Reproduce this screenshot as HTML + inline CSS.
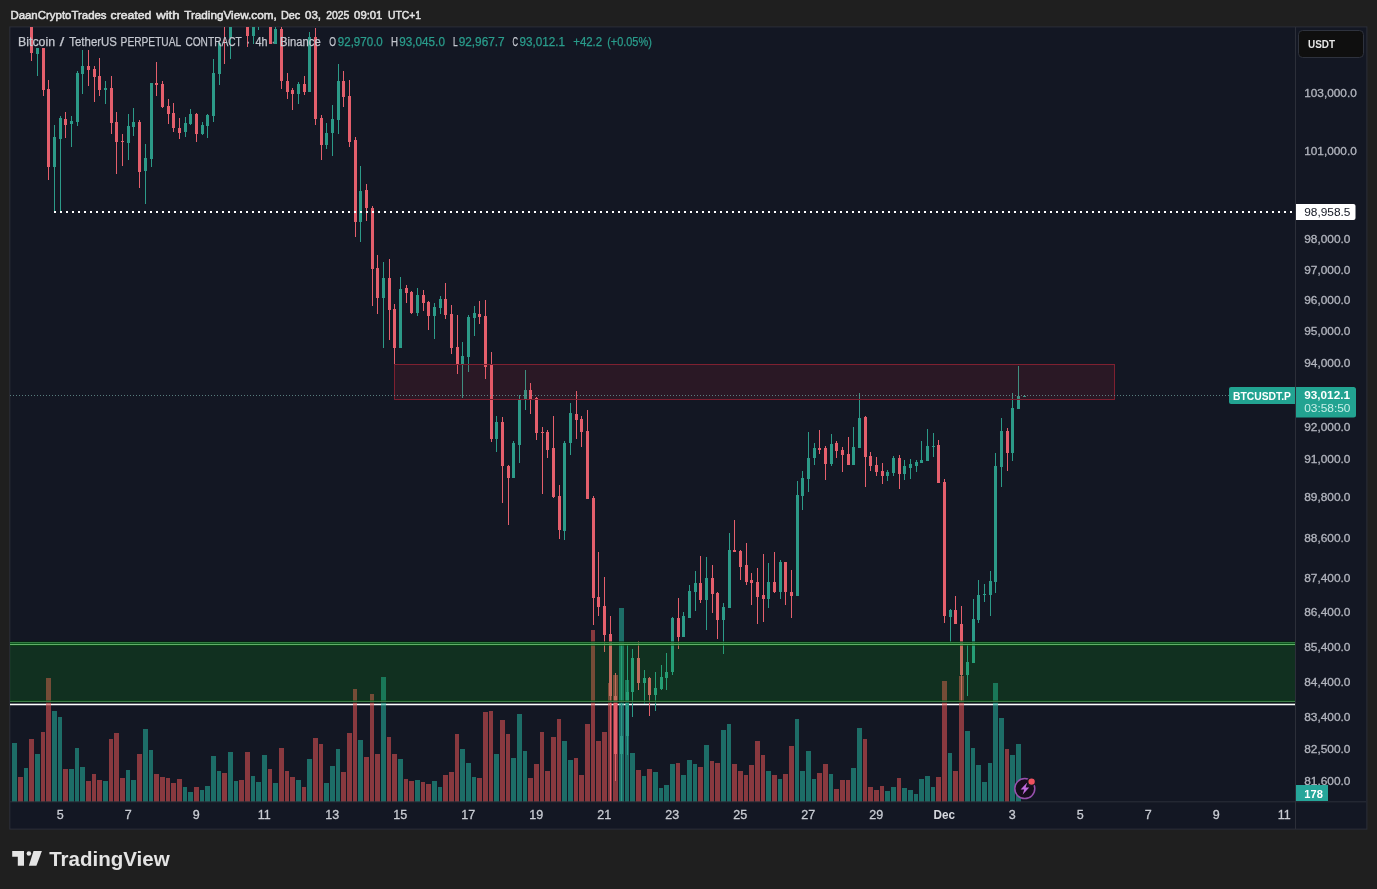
<!DOCTYPE html>
<html><head><meta charset="utf-8"><title>BTCUSDT.P chart</title>
<style>html,body{margin:0;padding:0;background:#1f1f1f;overflow:hidden}svg{display:block;will-change:transform}text{font-family:"Liberation Sans",sans-serif}</style>
</head><body>
<svg width="1377" height="889" viewBox="0 0 1377 889">
<rect x="0" y="0" width="1377" height="889" fill="#1f1f1f"/>
<rect x="9.8" y="26.9" width="1357.1" height="802.2" fill="#131723" stroke="#2c2f39" stroke-width="1"/>
<defs><clipPath id="pane"><rect x="10" y="27" width="1285" height="775"/></clipPath></defs>
<rect x="10" y="703.7" width="1285" height="1.55" fill="#ffffff"/>
<g clip-path="url(#pane)" shape-rendering="crispEdges">
<rect x="12" y="743" width="5" height="59" fill="rgba(36,166,148,0.6)"/>
<rect x="18" y="777" width="5" height="25" fill="rgba(217,80,82,0.6)"/>
<rect x="24" y="768" width="4" height="34" fill="rgba(36,166,148,0.6)"/>
<rect x="29" y="739" width="5" height="63" fill="rgba(217,80,82,0.6)"/>
<rect x="35" y="754" width="5" height="48" fill="rgba(36,166,148,0.6)"/>
<rect x="41" y="732" width="4" height="70" fill="rgba(217,80,82,0.6)"/>
<rect x="46" y="678" width="5" height="124" fill="rgba(217,80,82,0.6)"/>
<rect x="52" y="711" width="5" height="91" fill="rgba(36,166,148,0.6)"/>
<rect x="58" y="717" width="4" height="85" fill="rgba(36,166,148,0.6)"/>
<rect x="63" y="769" width="5" height="33" fill="rgba(217,80,82,0.6)"/>
<rect x="69" y="769" width="5" height="33" fill="rgba(36,166,148,0.6)"/>
<rect x="75" y="748" width="4" height="54" fill="rgba(36,166,148,0.6)"/>
<rect x="80" y="767" width="5" height="35" fill="rgba(36,166,148,0.6)"/>
<rect x="86" y="781" width="5" height="21" fill="rgba(217,80,82,0.6)"/>
<rect x="92" y="774" width="4" height="28" fill="rgba(217,80,82,0.6)"/>
<rect x="97" y="780" width="5" height="22" fill="rgba(217,80,82,0.6)"/>
<rect x="103" y="781" width="5" height="21" fill="rgba(36,166,148,0.6)"/>
<rect x="109" y="739" width="4" height="63" fill="rgba(217,80,82,0.6)"/>
<rect x="114" y="733" width="5" height="69" fill="rgba(217,80,82,0.6)"/>
<rect x="120" y="778" width="5" height="24" fill="rgba(217,80,82,0.6)"/>
<rect x="126" y="770" width="4" height="32" fill="rgba(36,166,148,0.6)"/>
<rect x="131" y="780" width="5" height="22" fill="rgba(36,166,148,0.6)"/>
<rect x="137" y="754" width="5" height="48" fill="rgba(217,80,82,0.6)"/>
<rect x="143" y="729" width="5" height="73" fill="rgba(36,166,148,0.6)"/>
<rect x="149" y="750" width="4" height="52" fill="rgba(36,166,148,0.6)"/>
<rect x="154" y="774" width="5" height="28" fill="rgba(217,80,82,0.6)"/>
<rect x="160" y="777" width="5" height="25" fill="rgba(217,80,82,0.6)"/>
<rect x="166" y="778" width="4" height="24" fill="rgba(217,80,82,0.6)"/>
<rect x="171" y="783" width="5" height="19" fill="rgba(217,80,82,0.6)"/>
<rect x="177" y="779" width="5" height="23" fill="rgba(217,80,82,0.6)"/>
<rect x="183" y="787" width="4" height="15" fill="rgba(36,166,148,0.6)"/>
<rect x="188" y="792" width="5" height="10" fill="rgba(36,166,148,0.6)"/>
<rect x="194" y="787" width="5" height="15" fill="rgba(217,80,82,0.6)"/>
<rect x="200" y="790" width="4" height="12" fill="rgba(36,166,148,0.6)"/>
<rect x="205" y="786" width="5" height="16" fill="rgba(36,166,148,0.6)"/>
<rect x="211" y="756" width="5" height="46" fill="rgba(36,166,148,0.6)"/>
<rect x="217" y="771" width="4" height="31" fill="rgba(36,166,148,0.6)"/>
<rect x="222" y="773" width="5" height="29" fill="rgba(217,80,82,0.6)"/>
<rect x="228" y="752" width="5" height="50" fill="rgba(36,166,148,0.6)"/>
<rect x="234" y="781" width="4" height="21" fill="rgba(36,166,148,0.6)"/>
<rect x="239" y="780" width="5" height="22" fill="rgba(217,80,82,0.6)"/>
<rect x="245" y="752" width="5" height="50" fill="rgba(217,80,82,0.6)"/>
<rect x="251" y="776" width="4" height="26" fill="rgba(36,166,148,0.6)"/>
<rect x="256" y="782" width="5" height="20" fill="rgba(36,166,148,0.6)"/>
<rect x="262" y="755" width="5" height="47" fill="rgba(36,166,148,0.6)"/>
<rect x="268" y="769" width="4" height="33" fill="rgba(217,80,82,0.6)"/>
<rect x="273" y="783" width="5" height="19" fill="rgba(36,166,148,0.6)"/>
<rect x="279" y="748" width="5" height="54" fill="rgba(217,80,82,0.6)"/>
<rect x="285" y="771" width="4" height="31" fill="rgba(217,80,82,0.6)"/>
<rect x="290" y="777" width="5" height="25" fill="rgba(217,80,82,0.6)"/>
<rect x="296" y="780" width="5" height="22" fill="rgba(36,166,148,0.6)"/>
<rect x="302" y="787" width="4" height="15" fill="rgba(217,80,82,0.6)"/>
<rect x="307" y="759" width="5" height="43" fill="rgba(36,166,148,0.6)"/>
<rect x="313" y="738" width="5" height="64" fill="rgba(217,80,82,0.6)"/>
<rect x="319" y="744" width="4" height="58" fill="rgba(217,80,82,0.6)"/>
<rect x="324" y="783" width="5" height="19" fill="rgba(36,166,148,0.6)"/>
<rect x="330" y="766" width="5" height="36" fill="rgba(36,166,148,0.6)"/>
<rect x="336" y="749" width="4" height="53" fill="rgba(36,166,148,0.6)"/>
<rect x="341" y="772" width="5" height="30" fill="rgba(217,80,82,0.6)"/>
<rect x="347" y="733" width="5" height="69" fill="rgba(217,80,82,0.6)"/>
<rect x="353" y="689" width="4" height="113" fill="rgba(217,80,82,0.6)"/>
<rect x="358" y="740" width="5" height="62" fill="rgba(36,166,148,0.6)"/>
<rect x="364" y="757" width="5" height="45" fill="rgba(217,80,82,0.6)"/>
<rect x="370" y="694" width="4" height="108" fill="rgba(217,80,82,0.6)"/>
<rect x="375" y="754" width="5" height="48" fill="rgba(217,80,82,0.6)"/>
<rect x="381" y="677" width="5" height="125" fill="rgba(36,166,148,0.6)"/>
<rect x="387" y="737" width="4" height="65" fill="rgba(217,80,82,0.6)"/>
<rect x="392" y="754" width="5" height="48" fill="rgba(217,80,82,0.6)"/>
<rect x="398" y="759" width="5" height="43" fill="rgba(36,166,148,0.6)"/>
<rect x="404" y="779" width="4" height="23" fill="rgba(217,80,82,0.6)"/>
<rect x="409" y="781" width="5" height="21" fill="rgba(217,80,82,0.6)"/>
<rect x="415" y="780" width="5" height="22" fill="rgba(36,166,148,0.6)"/>
<rect x="421" y="782" width="4" height="20" fill="rgba(217,80,82,0.6)"/>
<rect x="426" y="784" width="5" height="18" fill="rgba(217,80,82,0.6)"/>
<rect x="432" y="781" width="5" height="21" fill="rgba(36,166,148,0.6)"/>
<rect x="438" y="787" width="4" height="15" fill="rgba(36,166,148,0.6)"/>
<rect x="443" y="775" width="5" height="27" fill="rgba(217,80,82,0.6)"/>
<rect x="449" y="772" width="5" height="30" fill="rgba(217,80,82,0.6)"/>
<rect x="455" y="734" width="4" height="68" fill="rgba(217,80,82,0.6)"/>
<rect x="460" y="749" width="5" height="53" fill="rgba(36,166,148,0.6)"/>
<rect x="466" y="763" width="5" height="39" fill="rgba(36,166,148,0.6)"/>
<rect x="472" y="777" width="4" height="25" fill="rgba(36,166,148,0.6)"/>
<rect x="477" y="778" width="5" height="24" fill="rgba(217,80,82,0.6)"/>
<rect x="483" y="712" width="5" height="90" fill="rgba(217,80,82,0.6)"/>
<rect x="489" y="711" width="4" height="91" fill="rgba(217,80,82,0.6)"/>
<rect x="494" y="754" width="5" height="48" fill="rgba(36,166,148,0.6)"/>
<rect x="500" y="720" width="5" height="82" fill="rgba(217,80,82,0.6)"/>
<rect x="506" y="734" width="4" height="68" fill="rgba(217,80,82,0.6)"/>
<rect x="511" y="758" width="5" height="44" fill="rgba(36,166,148,0.6)"/>
<rect x="517" y="714" width="5" height="88" fill="rgba(36,166,148,0.6)"/>
<rect x="523" y="751" width="4" height="51" fill="rgba(36,166,148,0.6)"/>
<rect x="528" y="778" width="5" height="24" fill="rgba(217,80,82,0.6)"/>
<rect x="534" y="764" width="5" height="38" fill="rgba(217,80,82,0.6)"/>
<rect x="540" y="732" width="4" height="70" fill="rgba(217,80,82,0.6)"/>
<rect x="545" y="771" width="5" height="31" fill="rgba(217,80,82,0.6)"/>
<rect x="551" y="737" width="5" height="65" fill="rgba(217,80,82,0.6)"/>
<rect x="557" y="719" width="4" height="83" fill="rgba(217,80,82,0.6)"/>
<rect x="562" y="741" width="5" height="61" fill="rgba(36,166,148,0.6)"/>
<rect x="568" y="760" width="5" height="42" fill="rgba(36,166,148,0.6)"/>
<rect x="574" y="758" width="4" height="44" fill="rgba(217,80,82,0.6)"/>
<rect x="579" y="775" width="5" height="27" fill="rgba(217,80,82,0.6)"/>
<rect x="585" y="724" width="5" height="78" fill="rgba(217,80,82,0.6)"/>
<rect x="591" y="630" width="4" height="172" fill="rgba(217,80,82,0.6)"/>
<rect x="596" y="741" width="5" height="61" fill="rgba(217,80,82,0.6)"/>
<rect x="602" y="732" width="5" height="70" fill="rgba(217,80,82,0.6)"/>
<rect x="608" y="683" width="4" height="119" fill="rgba(217,80,82,0.6)"/>
<rect x="613" y="675" width="5" height="127" fill="rgba(217,80,82,0.6)"/>
<rect x="619" y="608" width="5" height="194" fill="rgba(36,166,148,0.6)"/>
<rect x="625" y="680" width="4" height="122" fill="rgba(36,166,148,0.6)"/>
<rect x="630" y="753" width="5" height="49" fill="rgba(36,166,148,0.6)"/>
<rect x="636" y="770" width="5" height="32" fill="rgba(217,80,82,0.6)"/>
<rect x="642" y="776" width="4" height="26" fill="rgba(36,166,148,0.6)"/>
<rect x="647" y="769" width="5" height="33" fill="rgba(217,80,82,0.6)"/>
<rect x="653" y="772" width="5" height="30" fill="rgba(36,166,148,0.6)"/>
<rect x="659" y="788" width="4" height="14" fill="rgba(36,166,148,0.6)"/>
<rect x="664" y="785" width="5" height="17" fill="rgba(36,166,148,0.6)"/>
<rect x="670" y="764" width="5" height="38" fill="rgba(36,166,148,0.6)"/>
<rect x="676" y="763" width="4" height="39" fill="rgba(217,80,82,0.6)"/>
<rect x="681" y="775" width="5" height="27" fill="rgba(36,166,148,0.6)"/>
<rect x="687" y="760" width="5" height="42" fill="rgba(36,166,148,0.6)"/>
<rect x="693" y="764" width="4" height="38" fill="rgba(36,166,148,0.6)"/>
<rect x="698" y="767" width="5" height="35" fill="rgba(217,80,82,0.6)"/>
<rect x="704" y="745" width="5" height="57" fill="rgba(36,166,148,0.6)"/>
<rect x="710" y="761" width="4" height="41" fill="rgba(217,80,82,0.6)"/>
<rect x="715" y="763" width="5" height="39" fill="rgba(217,80,82,0.6)"/>
<rect x="721" y="730" width="5" height="72" fill="rgba(36,166,148,0.6)"/>
<rect x="727" y="724" width="4" height="78" fill="rgba(36,166,148,0.6)"/>
<rect x="732" y="764" width="5" height="38" fill="rgba(217,80,82,0.6)"/>
<rect x="738" y="771" width="5" height="31" fill="rgba(217,80,82,0.6)"/>
<rect x="744" y="775" width="4" height="27" fill="rgba(217,80,82,0.6)"/>
<rect x="749" y="765" width="5" height="37" fill="rgba(217,80,82,0.6)"/>
<rect x="755" y="741" width="5" height="61" fill="rgba(217,80,82,0.6)"/>
<rect x="761" y="755" width="4" height="47" fill="rgba(217,80,82,0.6)"/>
<rect x="766" y="771" width="5" height="31" fill="rgba(36,166,148,0.6)"/>
<rect x="772" y="775" width="5" height="27" fill="rgba(217,80,82,0.6)"/>
<rect x="778" y="779" width="4" height="23" fill="rgba(36,166,148,0.6)"/>
<rect x="783" y="774" width="5" height="28" fill="rgba(217,80,82,0.6)"/>
<rect x="789" y="746" width="5" height="56" fill="rgba(217,80,82,0.6)"/>
<rect x="795" y="719" width="4" height="83" fill="rgba(36,166,148,0.6)"/>
<rect x="800" y="771" width="5" height="31" fill="rgba(36,166,148,0.6)"/>
<rect x="806" y="751" width="5" height="51" fill="rgba(36,166,148,0.6)"/>
<rect x="812" y="779" width="4" height="23" fill="rgba(36,166,148,0.6)"/>
<rect x="817" y="773" width="5" height="29" fill="rgba(217,80,82,0.6)"/>
<rect x="823" y="764" width="5" height="38" fill="rgba(217,80,82,0.6)"/>
<rect x="829" y="774" width="4" height="28" fill="rgba(36,166,148,0.6)"/>
<rect x="834" y="789" width="5" height="13" fill="rgba(217,80,82,0.6)"/>
<rect x="840" y="780" width="5" height="22" fill="rgba(217,80,82,0.6)"/>
<rect x="846" y="780" width="4" height="22" fill="rgba(217,80,82,0.6)"/>
<rect x="851" y="768" width="5" height="34" fill="rgba(36,166,148,0.6)"/>
<rect x="857" y="728" width="5" height="74" fill="rgba(36,166,148,0.6)"/>
<rect x="863" y="739" width="4" height="63" fill="rgba(217,80,82,0.6)"/>
<rect x="868" y="787" width="5" height="15" fill="rgba(217,80,82,0.6)"/>
<rect x="874" y="790" width="5" height="12" fill="rgba(217,80,82,0.6)"/>
<rect x="880" y="786" width="4" height="16" fill="rgba(217,80,82,0.6)"/>
<rect x="885" y="791" width="5" height="11" fill="rgba(36,166,148,0.6)"/>
<rect x="891" y="787" width="5" height="15" fill="rgba(36,166,148,0.6)"/>
<rect x="897" y="778" width="4" height="24" fill="rgba(217,80,82,0.6)"/>
<rect x="902" y="788" width="5" height="14" fill="rgba(36,166,148,0.6)"/>
<rect x="908" y="790" width="5" height="12" fill="rgba(36,166,148,0.6)"/>
<rect x="914" y="794" width="4" height="8" fill="rgba(36,166,148,0.6)"/>
<rect x="919" y="779" width="5" height="23" fill="rgba(36,166,148,0.6)"/>
<rect x="925" y="776" width="5" height="26" fill="rgba(36,166,148,0.6)"/>
<rect x="931" y="787" width="4" height="15" fill="rgba(36,166,148,0.6)"/>
<rect x="936" y="777" width="5" height="25" fill="rgba(217,80,82,0.6)"/>
<rect x="942" y="681" width="5" height="121" fill="rgba(217,80,82,0.6)"/>
<rect x="948" y="753" width="4" height="49" fill="rgba(36,166,148,0.6)"/>
<rect x="953" y="771" width="5" height="31" fill="rgba(217,80,82,0.6)"/>
<rect x="959" y="676" width="5" height="126" fill="rgba(217,80,82,0.6)"/>
<rect x="965" y="731" width="5" height="71" fill="rgba(36,166,148,0.6)"/>
<rect x="971" y="748" width="4" height="54" fill="rgba(36,166,148,0.6)"/>
<rect x="976" y="765" width="5" height="37" fill="rgba(36,166,148,0.6)"/>
<rect x="982" y="782" width="5" height="20" fill="rgba(36,166,148,0.6)"/>
<rect x="988" y="763" width="4" height="39" fill="rgba(36,166,148,0.6)"/>
<rect x="993" y="683" width="5" height="119" fill="rgba(36,166,148,0.6)"/>
<rect x="999" y="718" width="5" height="84" fill="rgba(36,166,148,0.6)"/>
<rect x="1005" y="749" width="4" height="53" fill="rgba(217,80,82,0.6)"/>
<rect x="1010" y="755" width="5" height="47" fill="rgba(36,166,148,0.6)"/>
<rect x="1016" y="744" width="5" height="58" fill="rgba(36,166,148,0.6)"/>
<rect x="31" y="27" width="1" height="34" fill="#e45f6c"/>
<rect x="30" y="27" width="3" height="26" fill="#e45f6c"/>
<rect x="37" y="48" width="1" height="28" fill="#2c9a88"/>
<rect x="36" y="48" width="3" height="6" fill="#2c9a88"/>
<rect x="43" y="48" width="1" height="48" fill="#e45f6c"/>
<rect x="42" y="48" width="3" height="42" fill="#e45f6c"/>
<rect x="48" y="80" width="1" height="100" fill="#e45f6c"/>
<rect x="47" y="89" width="3" height="78" fill="#e45f6c"/>
<rect x="54" y="125" width="1" height="87" fill="#2c9a88"/>
<rect x="53" y="137" width="3" height="30" fill="#2c9a88"/>
<rect x="60" y="116" width="1" height="96" fill="#2c9a88"/>
<rect x="59" y="118" width="3" height="21" fill="#2c9a88"/>
<rect x="65" y="112" width="1" height="26" fill="#e45f6c"/>
<rect x="64" y="119" width="3" height="6" fill="#e45f6c"/>
<rect x="71" y="116" width="1" height="31" fill="#2c9a88"/>
<rect x="70" y="121" width="3" height="3" fill="#2c9a88"/>
<rect x="77" y="71" width="1" height="55" fill="#2c9a88"/>
<rect x="76" y="73" width="3" height="49" fill="#2c9a88"/>
<rect x="82" y="50" width="1" height="44" fill="#2c9a88"/>
<rect x="81" y="66" width="3" height="8" fill="#2c9a88"/>
<rect x="88" y="50" width="1" height="36" fill="#e45f6c"/>
<rect x="87" y="66" width="3" height="4" fill="#e45f6c"/>
<rect x="94" y="66" width="1" height="36" fill="#e45f6c"/>
<rect x="93" y="69" width="3" height="8" fill="#e45f6c"/>
<rect x="99" y="58" width="1" height="38" fill="#e45f6c"/>
<rect x="98" y="76" width="3" height="14" fill="#e45f6c"/>
<rect x="105" y="81" width="1" height="23" fill="#2c9a88"/>
<rect x="104" y="88" width="3" height="2" fill="#2c9a88"/>
<rect x="111" y="76" width="1" height="58" fill="#e45f6c"/>
<rect x="110" y="88" width="3" height="35" fill="#e45f6c"/>
<rect x="116" y="112" width="1" height="62" fill="#e45f6c"/>
<rect x="115" y="122" width="3" height="20" fill="#e45f6c"/>
<rect x="122" y="134" width="1" height="32" fill="#e45f6c"/>
<rect x="121" y="141" width="3" height="1" fill="#e45f6c"/>
<rect x="128" y="114" width="1" height="46" fill="#2c9a88"/>
<rect x="127" y="126" width="3" height="17" fill="#2c9a88"/>
<rect x="133" y="108" width="1" height="28" fill="#2c9a88"/>
<rect x="132" y="122" width="3" height="5" fill="#2c9a88"/>
<rect x="139" y="120" width="1" height="68" fill="#e45f6c"/>
<rect x="138" y="122" width="3" height="50" fill="#e45f6c"/>
<rect x="145" y="144" width="1" height="60" fill="#2c9a88"/>
<rect x="144" y="158" width="3" height="13" fill="#2c9a88"/>
<rect x="151" y="83" width="1" height="84" fill="#2c9a88"/>
<rect x="150" y="83" width="3" height="76" fill="#2c9a88"/>
<rect x="156" y="62" width="1" height="34" fill="#e45f6c"/>
<rect x="155" y="83" width="3" height="2" fill="#e45f6c"/>
<rect x="162" y="81" width="1" height="27" fill="#e45f6c"/>
<rect x="161" y="84" width="3" height="23" fill="#e45f6c"/>
<rect x="168" y="99" width="1" height="25" fill="#e45f6c"/>
<rect x="167" y="106" width="3" height="8" fill="#e45f6c"/>
<rect x="173" y="103" width="1" height="29" fill="#e45f6c"/>
<rect x="172" y="113" width="3" height="15" fill="#e45f6c"/>
<rect x="179" y="118" width="1" height="21" fill="#e45f6c"/>
<rect x="178" y="128" width="3" height="5" fill="#e45f6c"/>
<rect x="185" y="117" width="1" height="20" fill="#2c9a88"/>
<rect x="184" y="123" width="3" height="9" fill="#2c9a88"/>
<rect x="190" y="109" width="1" height="16" fill="#2c9a88"/>
<rect x="189" y="114" width="3" height="10" fill="#2c9a88"/>
<rect x="196" y="113" width="1" height="29" fill="#e45f6c"/>
<rect x="195" y="114" width="3" height="20" fill="#e45f6c"/>
<rect x="202" y="122" width="1" height="13" fill="#2c9a88"/>
<rect x="201" y="125" width="3" height="9" fill="#2c9a88"/>
<rect x="207" y="114" width="1" height="24" fill="#2c9a88"/>
<rect x="206" y="115" width="3" height="11" fill="#2c9a88"/>
<rect x="213" y="59" width="1" height="63" fill="#2c9a88"/>
<rect x="212" y="73" width="3" height="43" fill="#2c9a88"/>
<rect x="219" y="41" width="1" height="44" fill="#2c9a88"/>
<rect x="218" y="43" width="3" height="31" fill="#2c9a88"/>
<rect x="224" y="27" width="1" height="37" fill="#e45f6c"/>
<rect x="230" y="27" width="1" height="32" fill="#2c9a88"/>
<rect x="229" y="27" width="3" height="11" fill="#2c9a88"/>
<rect x="247" y="27" width="1" height="20" fill="#e45f6c"/>
<rect x="246" y="27" width="3" height="9" fill="#e45f6c"/>
<rect x="253" y="27" width="1" height="17" fill="#2c9a88"/>
<rect x="252" y="27" width="3" height="9" fill="#2c9a88"/>
<rect x="258" y="27" width="1" height="3" fill="#2c9a88"/>
<rect x="270" y="27" width="1" height="17" fill="#e45f6c"/>
<rect x="269" y="27" width="3" height="17" fill="#e45f6c"/>
<rect x="275" y="27" width="1" height="17" fill="#2c9a88"/>
<rect x="274" y="29" width="3" height="15" fill="#2c9a88"/>
<rect x="281" y="27" width="1" height="62" fill="#e45f6c"/>
<rect x="280" y="29" width="3" height="52" fill="#e45f6c"/>
<rect x="287" y="73" width="1" height="26" fill="#e45f6c"/>
<rect x="286" y="81" width="3" height="11" fill="#e45f6c"/>
<rect x="292" y="88" width="1" height="22" fill="#e45f6c"/>
<rect x="291" y="90" width="3" height="4" fill="#e45f6c"/>
<rect x="298" y="82" width="1" height="22" fill="#2c9a88"/>
<rect x="297" y="84" width="3" height="10" fill="#2c9a88"/>
<rect x="304" y="76" width="1" height="19" fill="#e45f6c"/>
<rect x="303" y="84" width="3" height="8" fill="#e45f6c"/>
<rect x="309" y="32" width="1" height="60" fill="#2c9a88"/>
<rect x="308" y="37" width="3" height="55" fill="#2c9a88"/>
<rect x="315" y="28" width="1" height="97" fill="#e45f6c"/>
<rect x="314" y="37" width="3" height="82" fill="#e45f6c"/>
<rect x="321" y="115" width="1" height="45" fill="#e45f6c"/>
<rect x="320" y="118" width="3" height="27" fill="#e45f6c"/>
<rect x="326" y="123" width="1" height="26" fill="#2c9a88"/>
<rect x="325" y="133" width="3" height="12" fill="#2c9a88"/>
<rect x="332" y="105" width="1" height="51" fill="#2c9a88"/>
<rect x="331" y="119" width="3" height="14" fill="#2c9a88"/>
<rect x="338" y="64" width="1" height="70" fill="#2c9a88"/>
<rect x="337" y="81" width="3" height="39" fill="#2c9a88"/>
<rect x="343" y="71" width="1" height="36" fill="#e45f6c"/>
<rect x="342" y="81" width="3" height="16" fill="#e45f6c"/>
<rect x="349" y="80" width="1" height="67" fill="#e45f6c"/>
<rect x="348" y="96" width="3" height="46" fill="#e45f6c"/>
<rect x="355" y="137" width="1" height="100" fill="#e45f6c"/>
<rect x="354" y="140" width="3" height="82" fill="#e45f6c"/>
<rect x="360" y="166" width="1" height="76" fill="#2c9a88"/>
<rect x="359" y="191" width="3" height="31" fill="#2c9a88"/>
<rect x="366" y="184" width="1" height="37" fill="#e45f6c"/>
<rect x="365" y="190" width="3" height="18" fill="#e45f6c"/>
<rect x="372" y="206" width="1" height="100" fill="#e45f6c"/>
<rect x="371" y="208" width="3" height="61" fill="#e45f6c"/>
<rect x="377" y="255" width="1" height="59" fill="#e45f6c"/>
<rect x="376" y="268" width="3" height="30" fill="#e45f6c"/>
<rect x="383" y="262" width="1" height="86" fill="#2c9a88"/>
<rect x="382" y="278" width="3" height="20" fill="#2c9a88"/>
<rect x="389" y="259" width="1" height="81" fill="#e45f6c"/>
<rect x="388" y="278" width="3" height="32" fill="#e45f6c"/>
<rect x="394" y="304" width="1" height="60" fill="#e45f6c"/>
<rect x="393" y="309" width="3" height="39" fill="#e45f6c"/>
<rect x="400" y="277" width="1" height="71" fill="#2c9a88"/>
<rect x="399" y="289" width="3" height="59" fill="#2c9a88"/>
<rect x="406" y="285" width="1" height="18" fill="#e45f6c"/>
<rect x="405" y="288" width="3" height="5" fill="#e45f6c"/>
<rect x="411" y="291" width="1" height="23" fill="#e45f6c"/>
<rect x="410" y="292" width="3" height="21" fill="#e45f6c"/>
<rect x="417" y="288" width="1" height="28" fill="#2c9a88"/>
<rect x="416" y="295" width="3" height="18" fill="#2c9a88"/>
<rect x="423" y="290" width="1" height="21" fill="#e45f6c"/>
<rect x="422" y="295" width="3" height="8" fill="#e45f6c"/>
<rect x="428" y="301" width="1" height="29" fill="#e45f6c"/>
<rect x="427" y="302" width="3" height="14" fill="#e45f6c"/>
<rect x="434" y="303" width="1" height="36" fill="#2c9a88"/>
<rect x="433" y="307" width="3" height="9" fill="#2c9a88"/>
<rect x="440" y="296" width="1" height="18" fill="#2c9a88"/>
<rect x="439" y="299" width="3" height="9" fill="#2c9a88"/>
<rect x="445" y="283" width="1" height="36" fill="#e45f6c"/>
<rect x="444" y="299" width="3" height="16" fill="#e45f6c"/>
<rect x="451" y="305" width="1" height="49" fill="#e45f6c"/>
<rect x="450" y="314" width="3" height="34" fill="#e45f6c"/>
<rect x="457" y="315" width="1" height="59" fill="#e45f6c"/>
<rect x="456" y="347" width="3" height="18" fill="#e45f6c"/>
<rect x="462" y="342" width="1" height="56" fill="#2c9a88"/>
<rect x="461" y="356" width="3" height="9" fill="#2c9a88"/>
<rect x="468" y="315" width="1" height="57" fill="#2c9a88"/>
<rect x="467" y="317" width="3" height="40" fill="#2c9a88"/>
<rect x="474" y="306" width="1" height="30" fill="#2c9a88"/>
<rect x="473" y="313" width="3" height="5" fill="#2c9a88"/>
<rect x="479" y="301" width="1" height="23" fill="#e45f6c"/>
<rect x="478" y="314" width="3" height="3" fill="#e45f6c"/>
<rect x="485" y="300" width="1" height="79" fill="#e45f6c"/>
<rect x="484" y="316" width="3" height="51" fill="#e45f6c"/>
<rect x="491" y="352" width="1" height="90" fill="#e45f6c"/>
<rect x="490" y="365" width="3" height="74" fill="#e45f6c"/>
<rect x="496" y="416" width="1" height="36" fill="#2c9a88"/>
<rect x="495" y="422" width="3" height="17" fill="#2c9a88"/>
<rect x="502" y="417" width="1" height="86" fill="#e45f6c"/>
<rect x="501" y="422" width="3" height="44" fill="#e45f6c"/>
<rect x="508" y="465" width="1" height="60" fill="#e45f6c"/>
<rect x="507" y="466" width="3" height="12" fill="#e45f6c"/>
<rect x="513" y="441" width="1" height="37" fill="#2c9a88"/>
<rect x="512" y="443" width="3" height="35" fill="#2c9a88"/>
<rect x="519" y="395" width="1" height="68" fill="#2c9a88"/>
<rect x="518" y="400" width="3" height="45" fill="#2c9a88"/>
<rect x="525" y="370" width="1" height="40" fill="#2c9a88"/>
<rect x="524" y="390" width="3" height="10" fill="#2c9a88"/>
<rect x="530" y="383" width="1" height="31" fill="#e45f6c"/>
<rect x="529" y="390" width="3" height="10" fill="#e45f6c"/>
<rect x="536" y="397" width="1" height="43" fill="#e45f6c"/>
<rect x="535" y="398" width="3" height="35" fill="#e45f6c"/>
<rect x="542" y="427" width="1" height="67" fill="#e45f6c"/>
<rect x="541" y="432" width="3" height="1" fill="#e45f6c"/>
<rect x="547" y="430" width="1" height="28" fill="#e45f6c"/>
<rect x="546" y="432" width="3" height="18" fill="#e45f6c"/>
<rect x="553" y="416" width="1" height="82" fill="#e45f6c"/>
<rect x="552" y="448" width="3" height="49" fill="#e45f6c"/>
<rect x="559" y="485" width="1" height="54" fill="#e45f6c"/>
<rect x="558" y="496" width="3" height="34" fill="#e45f6c"/>
<rect x="564" y="441" width="1" height="99" fill="#2c9a88"/>
<rect x="563" y="443" width="3" height="88" fill="#2c9a88"/>
<rect x="570" y="403" width="1" height="52" fill="#2c9a88"/>
<rect x="569" y="413" width="3" height="30" fill="#2c9a88"/>
<rect x="576" y="391" width="1" height="48" fill="#e45f6c"/>
<rect x="575" y="414" width="3" height="6" fill="#e45f6c"/>
<rect x="581" y="416" width="1" height="31" fill="#e45f6c"/>
<rect x="580" y="419" width="3" height="13" fill="#e45f6c"/>
<rect x="587" y="410" width="1" height="89" fill="#e45f6c"/>
<rect x="586" y="431" width="3" height="68" fill="#e45f6c"/>
<rect x="593" y="496" width="1" height="129" fill="#e45f6c"/>
<rect x="592" y="498" width="3" height="100" fill="#e45f6c"/>
<rect x="598" y="552" width="1" height="64" fill="#e45f6c"/>
<rect x="597" y="597" width="3" height="10" fill="#e45f6c"/>
<rect x="604" y="577" width="1" height="75" fill="#e45f6c"/>
<rect x="603" y="606" width="3" height="29" fill="#e45f6c"/>
<rect x="610" y="616" width="1" height="185" fill="#e45f6c"/>
<rect x="609" y="634" width="3" height="62" fill="#e45f6c"/>
<rect x="615" y="673" width="1" height="108" fill="#e45f6c"/>
<rect x="614" y="696" width="3" height="58" fill="#e45f6c"/>
<rect x="621" y="644" width="1" height="157" fill="#2c9a88"/>
<rect x="620" y="736" width="3" height="18" fill="#2c9a88"/>
<rect x="627" y="644" width="1" height="111" fill="#2c9a88"/>
<rect x="626" y="692" width="3" height="44" fill="#2c9a88"/>
<rect x="632" y="649" width="1" height="68" fill="#2c9a88"/>
<rect x="631" y="658" width="3" height="34" fill="#2c9a88"/>
<rect x="638" y="641" width="1" height="49" fill="#e45f6c"/>
<rect x="637" y="658" width="3" height="25" fill="#e45f6c"/>
<rect x="644" y="670" width="1" height="34" fill="#2c9a88"/>
<rect x="643" y="678" width="3" height="5" fill="#2c9a88"/>
<rect x="649" y="677" width="1" height="39" fill="#e45f6c"/>
<rect x="648" y="678" width="3" height="17" fill="#e45f6c"/>
<rect x="655" y="672" width="1" height="39" fill="#2c9a88"/>
<rect x="654" y="688" width="3" height="7" fill="#2c9a88"/>
<rect x="661" y="665" width="1" height="25" fill="#2c9a88"/>
<rect x="660" y="677" width="3" height="12" fill="#2c9a88"/>
<rect x="666" y="653" width="1" height="37" fill="#2c9a88"/>
<rect x="665" y="672" width="3" height="6" fill="#2c9a88"/>
<rect x="672" y="617" width="1" height="58" fill="#2c9a88"/>
<rect x="671" y="618" width="3" height="54" fill="#2c9a88"/>
<rect x="678" y="598" width="1" height="51" fill="#e45f6c"/>
<rect x="677" y="618" width="3" height="19" fill="#e45f6c"/>
<rect x="683" y="612" width="1" height="25" fill="#2c9a88"/>
<rect x="682" y="616" width="3" height="21" fill="#2c9a88"/>
<rect x="689" y="585" width="1" height="33" fill="#2c9a88"/>
<rect x="688" y="591" width="3" height="27" fill="#2c9a88"/>
<rect x="695" y="571" width="1" height="40" fill="#2c9a88"/>
<rect x="694" y="583" width="3" height="9" fill="#2c9a88"/>
<rect x="700" y="556" width="1" height="47" fill="#e45f6c"/>
<rect x="699" y="583" width="3" height="17" fill="#e45f6c"/>
<rect x="706" y="557" width="1" height="73" fill="#2c9a88"/>
<rect x="705" y="578" width="3" height="22" fill="#2c9a88"/>
<rect x="712" y="565" width="1" height="48" fill="#e45f6c"/>
<rect x="711" y="578" width="3" height="16" fill="#e45f6c"/>
<rect x="717" y="592" width="1" height="47" fill="#e45f6c"/>
<rect x="716" y="593" width="3" height="27" fill="#e45f6c"/>
<rect x="723" y="603" width="1" height="51" fill="#2c9a88"/>
<rect x="722" y="607" width="3" height="13" fill="#2c9a88"/>
<rect x="729" y="533" width="1" height="75" fill="#2c9a88"/>
<rect x="728" y="550" width="3" height="58" fill="#2c9a88"/>
<rect x="734" y="520" width="1" height="32" fill="#e45f6c"/>
<rect x="733" y="550" width="3" height="2" fill="#e45f6c"/>
<rect x="740" y="550" width="1" height="30" fill="#e45f6c"/>
<rect x="739" y="551" width="3" height="16" fill="#e45f6c"/>
<rect x="746" y="543" width="1" height="42" fill="#e45f6c"/>
<rect x="745" y="565" width="3" height="17" fill="#e45f6c"/>
<rect x="751" y="573" width="1" height="32" fill="#e45f6c"/>
<rect x="750" y="580" width="3" height="3" fill="#e45f6c"/>
<rect x="757" y="568" width="1" height="56" fill="#e45f6c"/>
<rect x="756" y="582" width="3" height="15" fill="#e45f6c"/>
<rect x="763" y="554" width="1" height="68" fill="#e45f6c"/>
<rect x="762" y="595" width="3" height="4" fill="#e45f6c"/>
<rect x="768" y="563" width="1" height="45" fill="#2c9a88"/>
<rect x="767" y="582" width="3" height="17" fill="#2c9a88"/>
<rect x="774" y="552" width="1" height="41" fill="#e45f6c"/>
<rect x="773" y="582" width="3" height="10" fill="#e45f6c"/>
<rect x="780" y="560" width="1" height="39" fill="#2c9a88"/>
<rect x="779" y="562" width="3" height="30" fill="#2c9a88"/>
<rect x="785" y="562" width="1" height="43" fill="#e45f6c"/>
<rect x="784" y="562" width="3" height="30" fill="#e45f6c"/>
<rect x="791" y="570" width="1" height="48" fill="#e45f6c"/>
<rect x="790" y="592" width="3" height="4" fill="#e45f6c"/>
<rect x="797" y="481" width="1" height="115" fill="#2c9a88"/>
<rect x="796" y="495" width="3" height="101" fill="#2c9a88"/>
<rect x="802" y="471" width="1" height="39" fill="#2c9a88"/>
<rect x="801" y="478" width="3" height="18" fill="#2c9a88"/>
<rect x="808" y="432" width="1" height="60" fill="#2c9a88"/>
<rect x="807" y="458" width="3" height="21" fill="#2c9a88"/>
<rect x="814" y="443" width="1" height="22" fill="#2c9a88"/>
<rect x="813" y="448" width="3" height="10" fill="#2c9a88"/>
<rect x="819" y="430" width="1" height="24" fill="#e45f6c"/>
<rect x="818" y="448" width="3" height="2" fill="#e45f6c"/>
<rect x="825" y="446" width="1" height="34" fill="#e45f6c"/>
<rect x="824" y="448" width="3" height="16" fill="#e45f6c"/>
<rect x="831" y="434" width="1" height="32" fill="#2c9a88"/>
<rect x="830" y="444" width="3" height="20" fill="#2c9a88"/>
<rect x="836" y="441" width="1" height="17" fill="#e45f6c"/>
<rect x="835" y="443" width="3" height="8" fill="#e45f6c"/>
<rect x="842" y="447" width="1" height="25" fill="#e45f6c"/>
<rect x="841" y="450" width="3" height="5" fill="#e45f6c"/>
<rect x="848" y="437" width="1" height="28" fill="#e45f6c"/>
<rect x="847" y="454" width="3" height="11" fill="#e45f6c"/>
<rect x="853" y="427" width="1" height="38" fill="#2c9a88"/>
<rect x="852" y="447" width="3" height="18" fill="#2c9a88"/>
<rect x="859" y="393" width="1" height="55" fill="#2c9a88"/>
<rect x="858" y="418" width="3" height="30" fill="#2c9a88"/>
<rect x="865" y="416" width="1" height="71" fill="#e45f6c"/>
<rect x="864" y="417" width="3" height="40" fill="#e45f6c"/>
<rect x="870" y="452" width="1" height="19" fill="#e45f6c"/>
<rect x="869" y="456" width="3" height="10" fill="#e45f6c"/>
<rect x="876" y="457" width="1" height="19" fill="#e45f6c"/>
<rect x="875" y="465" width="3" height="7" fill="#e45f6c"/>
<rect x="882" y="463" width="1" height="21" fill="#e45f6c"/>
<rect x="881" y="471" width="3" height="5" fill="#e45f6c"/>
<rect x="887" y="470" width="1" height="11" fill="#2c9a88"/>
<rect x="886" y="472" width="3" height="4" fill="#2c9a88"/>
<rect x="893" y="456" width="1" height="20" fill="#2c9a88"/>
<rect x="892" y="458" width="3" height="15" fill="#2c9a88"/>
<rect x="899" y="455" width="1" height="34" fill="#e45f6c"/>
<rect x="898" y="458" width="3" height="16" fill="#e45f6c"/>
<rect x="904" y="460" width="1" height="20" fill="#2c9a88"/>
<rect x="903" y="466" width="3" height="8" fill="#2c9a88"/>
<rect x="910" y="459" width="1" height="20" fill="#2c9a88"/>
<rect x="909" y="464" width="3" height="4" fill="#2c9a88"/>
<rect x="916" y="460" width="1" height="12" fill="#2c9a88"/>
<rect x="915" y="462" width="3" height="4" fill="#2c9a88"/>
<rect x="921" y="441" width="1" height="22" fill="#2c9a88"/>
<rect x="920" y="460" width="3" height="3" fill="#2c9a88"/>
<rect x="927" y="429" width="1" height="32" fill="#2c9a88"/>
<rect x="926" y="446" width="3" height="15" fill="#2c9a88"/>
<rect x="933" y="433" width="1" height="24" fill="#2c9a88"/>
<rect x="932" y="446" width="3" height="1" fill="#2c9a88"/>
<rect x="938" y="440" width="1" height="43" fill="#e45f6c"/>
<rect x="937" y="445" width="3" height="38" fill="#e45f6c"/>
<rect x="944" y="479" width="1" height="144" fill="#e45f6c"/>
<rect x="943" y="482" width="3" height="134" fill="#e45f6c"/>
<rect x="950" y="609" width="1" height="33" fill="#2c9a88"/>
<rect x="949" y="610" width="3" height="7" fill="#2c9a88"/>
<rect x="955" y="596" width="1" height="28" fill="#e45f6c"/>
<rect x="954" y="610" width="3" height="14" fill="#e45f6c"/>
<rect x="961" y="606" width="1" height="96" fill="#e45f6c"/>
<rect x="960" y="624" width="3" height="51" fill="#e45f6c"/>
<rect x="967" y="644" width="1" height="52" fill="#2c9a88"/>
<rect x="966" y="662" width="3" height="13" fill="#2c9a88"/>
<rect x="973" y="599" width="1" height="64" fill="#2c9a88"/>
<rect x="972" y="619" width="3" height="44" fill="#2c9a88"/>
<rect x="978" y="580" width="1" height="43" fill="#2c9a88"/>
<rect x="977" y="595" width="3" height="25" fill="#2c9a88"/>
<rect x="984" y="584" width="1" height="18" fill="#2c9a88"/>
<rect x="983" y="594" width="3" height="1" fill="#2c9a88"/>
<rect x="990" y="571" width="1" height="45" fill="#2c9a88"/>
<rect x="989" y="581" width="3" height="14" fill="#2c9a88"/>
<rect x="995" y="453" width="1" height="140" fill="#2c9a88"/>
<rect x="994" y="466" width="3" height="116" fill="#2c9a88"/>
<rect x="1001" y="418" width="1" height="69" fill="#2c9a88"/>
<rect x="1000" y="431" width="3" height="36" fill="#2c9a88"/>
<rect x="1007" y="428" width="1" height="43" fill="#e45f6c"/>
<rect x="1006" y="431" width="3" height="22" fill="#e45f6c"/>
<rect x="1012" y="393" width="1" height="68" fill="#2c9a88"/>
<rect x="1011" y="408" width="3" height="45" fill="#2c9a88"/>
<rect x="1018" y="366" width="1" height="43" fill="#2c9a88"/>
<rect x="1017" y="396" width="3" height="13" fill="#2c9a88"/>
<rect x="1024" y="395" width="1" height="2" fill="#2c9a88"/>
<rect x="1023" y="396" width="3" height="1" fill="#2c9a88"/>
</g>
<g shape-rendering="crispEdges">
<rect x="394.5" y="364.5" width="720" height="35" fill="rgba(242,40,55,0.10)" stroke="#7e2030" stroke-width="1"/>
<rect x="10" y="645" width="1285" height="56" fill="rgba(13,179,16,0.16)"/>
<rect x="10" y="641" width="1285" height="1" fill="rgba(0,40,10,0.55)"/>
<rect x="10" y="642" width="1285" height="1" fill="#347c44"/>
<rect x="10" y="643" width="1285" height="1" fill="rgba(10,110,28,0.75)"/>
<rect x="10" y="644" width="1285" height="1" fill="#62ad69"/>
<rect x="10" y="645" width="1285" height="1" fill="rgba(0,80,10,0.55)"/>
<rect x="10" y="700" width="1285" height="1" fill="rgba(0,80,10,0.45)"/>
<rect x="10" y="701" width="1285" height="1" fill="#3f7c4a"/>
<rect x="10" y="702" width="1285" height="1" fill="rgba(0,25,8,0.6)"/>
</g>
<line x1="54" y1="212" x2="1295" y2="212" stroke="#ffffff" stroke-width="2" stroke-dasharray="2 4" shape-rendering="crispEdges"/>
<line x1="10" y1="395.5" x2="1295" y2="395.5" stroke="#6f9f9c" stroke-width="1" stroke-dasharray="1 2" shape-rendering="crispEdges" opacity="0.75"/>
<g shape-rendering="crispEdges">
<rect x="1295" y="27" width="1" height="802" fill="#2c2f39"/>
<rect x="10" y="801.3" width="1356" height="1" fill="#2c2f39" shape-rendering="auto"/>
</g>
<text x="10.4" y="18.7" font-size="11.5" fill="#e4e4e4" font-weight="400" text-anchor="start" textLength="96.2" lengthAdjust="spacingAndGlyphs" stroke="#e4e4e4" stroke-width="0.50">DaanCryptoTrades</text>
<text x="110.6" y="18.7" font-size="11.5" fill="#e4e4e4" font-weight="400" text-anchor="start" textLength="40.6" lengthAdjust="spacingAndGlyphs" stroke="#e4e4e4" stroke-width="0.50">created</text>
<text x="156.2" y="18.7" font-size="11.5" fill="#e4e4e4" font-weight="400" text-anchor="start" textLength="23.4" lengthAdjust="spacingAndGlyphs" stroke="#e4e4e4" stroke-width="0.50">with</text>
<text x="184.2" y="18.7" font-size="11.5" fill="#e4e4e4" font-weight="400" text-anchor="start" textLength="92.5" lengthAdjust="spacingAndGlyphs" stroke="#e4e4e4" stroke-width="0.50">TradingView.com,</text>
<text x="281.0" y="18.7" font-size="11.5" fill="#e4e4e4" font-weight="400" text-anchor="start" textLength="19.3" lengthAdjust="spacingAndGlyphs" stroke="#e4e4e4" stroke-width="0.50">Dec</text>
<text x="305.0" y="18.7" font-size="11.5" fill="#e4e4e4" font-weight="400" text-anchor="start" textLength="16.0" lengthAdjust="spacingAndGlyphs" stroke="#e4e4e4" stroke-width="0.50">03,</text>
<text x="326.3" y="18.7" font-size="11.5" fill="#e4e4e4" font-weight="400" text-anchor="start" textLength="23.1" lengthAdjust="spacingAndGlyphs" stroke="#e4e4e4" stroke-width="0.50">2025</text>
<text x="354.1" y="18.7" font-size="11.5" fill="#e4e4e4" font-weight="400" text-anchor="start" textLength="28.3" lengthAdjust="spacingAndGlyphs" stroke="#e4e4e4" stroke-width="0.50">09:01</text>
<text x="388.1" y="18.7" font-size="11.5" fill="#e4e4e4" font-weight="400" text-anchor="start" textLength="33.0" lengthAdjust="spacingAndGlyphs" stroke="#e4e4e4" stroke-width="0.50">UTC+1</text>
<text x="18.0" y="45.8" font-size="12.0" fill="#c4c7cf" font-weight="400" text-anchor="start" textLength="37.1" lengthAdjust="spacingAndGlyphs" stroke="#c4c7cf" stroke-width="0.25">Bitcoin</text>
<text x="59.8" y="45.8" font-size="12.0" fill="#c4c7cf" font-weight="400" text-anchor="start" textLength="4.5" lengthAdjust="spacingAndGlyphs" stroke="#c4c7cf" stroke-width="0.25">/</text>
<text x="69.3" y="45.8" font-size="12.0" fill="#c4c7cf" font-weight="400" text-anchor="start" textLength="47.6" lengthAdjust="spacingAndGlyphs" stroke="#c4c7cf" stroke-width="0.25">TetherUS</text>
<text x="120.6" y="45.8" font-size="12.0" fill="#c4c7cf" font-weight="400" text-anchor="start" textLength="60.6" lengthAdjust="spacingAndGlyphs" stroke="#c4c7cf" stroke-width="0.25">PERPETUAL</text>
<text x="185.4" y="45.8" font-size="12.0" fill="#c4c7cf" font-weight="400" text-anchor="start" textLength="56.4" lengthAdjust="spacingAndGlyphs" stroke="#c4c7cf" stroke-width="0.25">CONTRACT</text>
<text x="247.0" y="45.8" font-size="12.0" fill="#c4c7cf" font-weight="400" text-anchor="start" textLength="2.6" lengthAdjust="spacingAndGlyphs" stroke="#c4c7cf" stroke-width="0.25">·</text>
<text x="255.6" y="45.8" font-size="12.0" fill="#c4c7cf" font-weight="400" text-anchor="start" textLength="12.0" lengthAdjust="spacingAndGlyphs" stroke="#c4c7cf" stroke-width="0.25">4h</text>
<text x="272.0" y="45.8" font-size="12.0" fill="#c4c7cf" font-weight="400" text-anchor="start" textLength="2.6" lengthAdjust="spacingAndGlyphs" stroke="#c4c7cf" stroke-width="0.25">·</text>
<text x="280.1" y="45.8" font-size="12.0" fill="#c4c7cf" font-weight="400" text-anchor="start" textLength="40.6" lengthAdjust="spacingAndGlyphs" stroke="#c4c7cf" stroke-width="0.25">Binance</text>
<text x="329.3" y="45.8" font-size="12.0" fill="#c4c7cf" font-weight="400" text-anchor="start" textLength="6.7" lengthAdjust="spacingAndGlyphs" stroke="#c4c7cf" stroke-width="0.25">O</text>
<text x="391.0" y="45.8" font-size="12.0" fill="#c4c7cf" font-weight="400" text-anchor="start" textLength="7.0" lengthAdjust="spacingAndGlyphs" stroke="#c4c7cf" stroke-width="0.25">H</text>
<text x="453.1" y="45.8" font-size="12.0" fill="#c4c7cf" font-weight="400" text-anchor="start" textLength="4.7" lengthAdjust="spacingAndGlyphs" stroke="#c4c7cf" stroke-width="0.25">L</text>
<text x="512.5" y="45.8" font-size="12.0" fill="#c4c7cf" font-weight="400" text-anchor="start" textLength="5.5" lengthAdjust="spacingAndGlyphs" stroke="#c4c7cf" stroke-width="0.25">C</text>
<text x="337.8" y="45.8" font-size="12.0" fill="#2a9d8c" font-weight="400" text-anchor="start" textLength="45.0" lengthAdjust="spacingAndGlyphs" stroke="#2a9d8c" stroke-width="0.25">92,970.0</text>
<text x="399.3" y="45.8" font-size="12.0" fill="#2a9d8c" font-weight="400" text-anchor="start" textLength="45.6" lengthAdjust="spacingAndGlyphs" stroke="#2a9d8c" stroke-width="0.25">93,045.0</text>
<text x="458.7" y="45.8" font-size="12.0" fill="#2a9d8c" font-weight="400" text-anchor="start" textLength="46.0" lengthAdjust="spacingAndGlyphs" stroke="#2a9d8c" stroke-width="0.25">92,967.7</text>
<text x="519.4" y="45.8" font-size="12.0" fill="#2a9d8c" font-weight="400" text-anchor="start" textLength="45.5" lengthAdjust="spacingAndGlyphs" stroke="#2a9d8c" stroke-width="0.25">93,012.1</text>
<text x="573.2" y="45.8" font-size="12.0" fill="#2a9d8c" font-weight="400" text-anchor="start" textLength="29.0" lengthAdjust="spacingAndGlyphs" stroke="#2a9d8c" stroke-width="0.25">+42.2</text>
<text x="607.2" y="45.8" font-size="12.0" fill="#2a9d8c" font-weight="400" text-anchor="start" textLength="44.6" lengthAdjust="spacingAndGlyphs" stroke="#2a9d8c" stroke-width="0.25">(+0.05%)</text>
<text x="1304.2" y="96.9" font-size="11.5" fill="#b2b5be" font-weight="400" text-anchor="start" textLength="52.6" lengthAdjust="spacingAndGlyphs" stroke="#b2b5be" stroke-width="0.3">103,000.0</text>
<text x="1304.2" y="154.9" font-size="11.5" fill="#b2b5be" font-weight="400" text-anchor="start" textLength="52.6" lengthAdjust="spacingAndGlyphs" stroke="#b2b5be" stroke-width="0.3">101,000.0</text>
<text x="1304.2" y="243.3" font-size="11.5" fill="#b2b5be" font-weight="400" text-anchor="start" textLength="46.3" lengthAdjust="spacingAndGlyphs" stroke="#b2b5be" stroke-width="0.3">98,000.0</text>
<text x="1304.2" y="273.6" font-size="11.5" fill="#b2b5be" font-weight="400" text-anchor="start" textLength="46.3" lengthAdjust="spacingAndGlyphs" stroke="#b2b5be" stroke-width="0.3">97,000.0</text>
<text x="1304.2" y="304.3" font-size="11.5" fill="#b2b5be" font-weight="400" text-anchor="start" textLength="46.3" lengthAdjust="spacingAndGlyphs" stroke="#b2b5be" stroke-width="0.3">96,000.0</text>
<text x="1304.2" y="335.3" font-size="11.5" fill="#b2b5be" font-weight="400" text-anchor="start" textLength="46.3" lengthAdjust="spacingAndGlyphs" stroke="#b2b5be" stroke-width="0.3">95,000.0</text>
<text x="1304.2" y="366.6" font-size="11.5" fill="#b2b5be" font-weight="400" text-anchor="start" textLength="46.3" lengthAdjust="spacingAndGlyphs" stroke="#b2b5be" stroke-width="0.3">94,000.0</text>
<text x="1304.2" y="431.0" font-size="11.5" fill="#b2b5be" font-weight="400" text-anchor="start" textLength="46.3" lengthAdjust="spacingAndGlyphs" stroke="#b2b5be" stroke-width="0.3">92,000.0</text>
<text x="1304.2" y="463.3" font-size="11.5" fill="#b2b5be" font-weight="400" text-anchor="start" textLength="46.3" lengthAdjust="spacingAndGlyphs" stroke="#b2b5be" stroke-width="0.3">91,000.0</text>
<text x="1304.2" y="501.3" font-size="11.5" fill="#b2b5be" font-weight="400" text-anchor="start" textLength="46.3" lengthAdjust="spacingAndGlyphs" stroke="#b2b5be" stroke-width="0.3">89,800.0</text>
<text x="1304.2" y="542.0" font-size="11.5" fill="#b2b5be" font-weight="400" text-anchor="start" textLength="46.3" lengthAdjust="spacingAndGlyphs" stroke="#b2b5be" stroke-width="0.3">88,600.0</text>
<text x="1304.2" y="582.3" font-size="11.5" fill="#b2b5be" font-weight="400" text-anchor="start" textLength="46.3" lengthAdjust="spacingAndGlyphs" stroke="#b2b5be" stroke-width="0.3">87,400.0</text>
<text x="1304.2" y="616.4" font-size="11.5" fill="#b2b5be" font-weight="400" text-anchor="start" textLength="46.3" lengthAdjust="spacingAndGlyphs" stroke="#b2b5be" stroke-width="0.3">86,400.0</text>
<text x="1304.2" y="650.8" font-size="11.5" fill="#b2b5be" font-weight="400" text-anchor="start" textLength="46.3" lengthAdjust="spacingAndGlyphs" stroke="#b2b5be" stroke-width="0.3">85,400.0</text>
<text x="1304.2" y="685.7" font-size="11.5" fill="#b2b5be" font-weight="400" text-anchor="start" textLength="46.3" lengthAdjust="spacingAndGlyphs" stroke="#b2b5be" stroke-width="0.3">84,400.0</text>
<text x="1304.2" y="720.9" font-size="11.5" fill="#b2b5be" font-weight="400" text-anchor="start" textLength="46.3" lengthAdjust="spacingAndGlyphs" stroke="#b2b5be" stroke-width="0.3">83,400.0</text>
<text x="1304.2" y="753.0" font-size="11.5" fill="#b2b5be" font-weight="400" text-anchor="start" textLength="46.3" lengthAdjust="spacingAndGlyphs" stroke="#b2b5be" stroke-width="0.3">82,500.0</text>
<text x="1304.2" y="785.1" font-size="11.5" fill="#b2b5be" font-weight="400" text-anchor="start" textLength="46.3" lengthAdjust="spacingAndGlyphs" stroke="#b2b5be" stroke-width="0.3">81,600.0</text>
<rect x="1298.5" y="30.5" width="65" height="27" rx="4" ry="4" fill="#0f0f0f" stroke="#2e323d" stroke-width="1"/>
<text x="1308.0" y="48.3" font-size="11.5" fill="#e6e6e6" font-weight="700" text-anchor="start" textLength="27.0" lengthAdjust="spacingAndGlyphs">USDT</text>
<path d="M1296 204 H1353.5 a2 2 0 0 1 2 2 V218 a2 2 0 0 1 -2 2 H1296 Z" fill="#ffffff"/>
<text x="1304.2" y="216.0" font-size="11.5" fill="#131722" font-weight="400" text-anchor="start" textLength="46.3" lengthAdjust="spacingAndGlyphs">98,958.5</text>
<path d="M1295 387 V404 H1231 a2 2 0 0 1 -2 -2 V389 a2 2 0 0 1 2 -2 Z" fill="#22a391"/>
<text x="1233.0" y="399.6" font-size="11.5" fill="#ffffff" font-weight="700" text-anchor="start" textLength="58.0" lengthAdjust="spacingAndGlyphs">BTCUSDT.P</text>
<path d="M1296 387 H1353.5 a2.5 2.5 0 0 1 2.5 2.5 V415 a2.5 2.5 0 0 1 -2.5 2.5 H1296 Z" fill="#22a391"/>
<text x="1304.2" y="398.6" font-size="11.5" fill="#ffffff" font-weight="700" text-anchor="start" textLength="45.8" lengthAdjust="spacingAndGlyphs">93,012.1</text>
<text x="1304.2" y="411.8" font-size="11.5" fill="#c9efe9" font-weight="400" text-anchor="start" textLength="46.3" lengthAdjust="spacingAndGlyphs">03:58:50</text>
<rect x="1296" y="785" width="32" height="16" fill="#26a69a"/>
<text x="1304.3" y="797.5" font-size="11.5" fill="#ffffff" font-weight="700" text-anchor="start" textLength="18.5" lengthAdjust="spacingAndGlyphs">178</text>
<text x="60.3" y="818.5" font-size="12.5" fill="#c9ccd3" font-weight="400" text-anchor="middle" stroke="#c9ccd3" stroke-width="0.3">5</text>
<text x="128.3" y="818.5" font-size="12.5" fill="#c9ccd3" font-weight="400" text-anchor="middle" stroke="#c9ccd3" stroke-width="0.3">7</text>
<text x="196.3" y="818.5" font-size="12.5" fill="#c9ccd3" font-weight="400" text-anchor="middle" stroke="#c9ccd3" stroke-width="0.3">9</text>
<text x="264.3" y="818.5" font-size="12.5" fill="#c9ccd3" font-weight="400" text-anchor="middle" stroke="#c9ccd3" stroke-width="0.3">11</text>
<text x="332.3" y="818.5" font-size="12.5" fill="#c9ccd3" font-weight="400" text-anchor="middle" stroke="#c9ccd3" stroke-width="0.3">13</text>
<text x="400.3" y="818.5" font-size="12.5" fill="#c9ccd3" font-weight="400" text-anchor="middle" stroke="#c9ccd3" stroke-width="0.3">15</text>
<text x="468.3" y="818.5" font-size="12.5" fill="#c9ccd3" font-weight="400" text-anchor="middle" stroke="#c9ccd3" stroke-width="0.3">17</text>
<text x="536.3" y="818.5" font-size="12.5" fill="#c9ccd3" font-weight="400" text-anchor="middle" stroke="#c9ccd3" stroke-width="0.3">19</text>
<text x="604.3" y="818.5" font-size="12.5" fill="#c9ccd3" font-weight="400" text-anchor="middle" stroke="#c9ccd3" stroke-width="0.3">21</text>
<text x="672.3" y="818.5" font-size="12.5" fill="#c9ccd3" font-weight="400" text-anchor="middle" stroke="#c9ccd3" stroke-width="0.3">23</text>
<text x="740.3" y="818.5" font-size="12.5" fill="#c9ccd3" font-weight="400" text-anchor="middle" stroke="#c9ccd3" stroke-width="0.3">25</text>
<text x="808.3" y="818.5" font-size="12.5" fill="#c9ccd3" font-weight="400" text-anchor="middle" stroke="#c9ccd3" stroke-width="0.3">27</text>
<text x="876.3" y="818.5" font-size="12.5" fill="#c9ccd3" font-weight="400" text-anchor="middle" stroke="#c9ccd3" stroke-width="0.3">29</text>
<text x="1012.3" y="818.5" font-size="12.5" fill="#c9ccd3" font-weight="400" text-anchor="middle" stroke="#c9ccd3" stroke-width="0.3">3</text>
<text x="1080.3" y="818.5" font-size="12.5" fill="#c9ccd3" font-weight="400" text-anchor="middle" stroke="#c9ccd3" stroke-width="0.3">5</text>
<text x="1148.3" y="818.5" font-size="12.5" fill="#c9ccd3" font-weight="400" text-anchor="middle" stroke="#c9ccd3" stroke-width="0.3">7</text>
<text x="1216.3" y="818.5" font-size="12.5" fill="#c9ccd3" font-weight="400" text-anchor="middle" stroke="#c9ccd3" stroke-width="0.3">9</text>
<text x="1284.3" y="818.5" font-size="12.5" fill="#c9ccd3" font-weight="400" text-anchor="middle" stroke="#c9ccd3" stroke-width="0.3">11</text>
<text x="944.2" y="818.5" font-size="12.5" fill="#d6d8de" font-weight="700" text-anchor="middle" textLength="21.5" lengthAdjust="spacingAndGlyphs">Dec</text>
<circle cx="1024.8" cy="788.6" r="10" fill="#160d1c" stroke="#9650ad" stroke-width="1.5"/>
<path d="M1027.2 782.5 L1020.6 789.6 L1024.2 789.6 L1022.6 794.8 L1029.2 787.6 L1025.6 787.6 Z" fill="#c06be0"/>
<circle cx="1031.6" cy="781.6" r="3.9" fill="#f0525f" stroke="#131723" stroke-width="1.4"/>
<path d="M12.2 851.1 H24 V865.8 H17.8 V856.7 H12.2 Z" fill="#e4e4e4"/>
<circle cx="28.9" cy="853.5" r="2.3" fill="#e4e4e4"/>
<path d="M33.5 851.1 H41.9 L36.4 865.8 H28.9 Z" fill="#e4e4e4"/>
<text x="49.2" y="865.8" font-size="20.5" fill="#e4e4e4" font-weight="700" text-anchor="start" textLength="120.5" lengthAdjust="spacingAndGlyphs">TradingView</text>
</svg></body></html>
